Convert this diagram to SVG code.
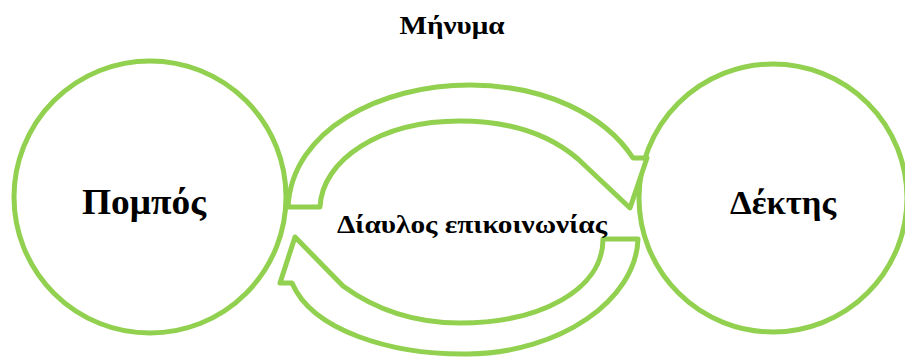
<svg xmlns="http://www.w3.org/2000/svg" width="905" height="357" viewBox="0 0 905 357">
<style>
.node{fill:#ffffff;stroke:#92d050;stroke-width:5}
.arrow{fill:#ffffff;stroke:#92d050;stroke-width:5;stroke-linejoin:round}
.lbl{font-family:"Liberation Serif","DejaVu Serif",serif;font-weight:bold;fill:#000000;text-anchor:middle}
</style>
<rect width="905" height="357" fill="#ffffff"/>
<g id="node-sender">
<circle class="node" cx="150" cy="197" r="136"/>
<text class="lbl" x="144" y="214" font-size="35" textLength="124" lengthAdjust="spacingAndGlyphs">Πομπός</text>
</g>
<g id="node-receiver">
<circle class="node" cx="773" cy="198" r="134"/>
<text class="lbl" x="783" y="214" font-size="33" textLength="106" lengthAdjust="spacingAndGlyphs">Δέκτης</text>
</g>
<g id="connectors">
<path class="arrow" d="M288,207 C292,130 380,85 470,85 C545,85 605,115 633,158 L647,158 L630,208 L578,159 C550,135 510,121 460,121 C380,121 322,160 320,207 Z"/>
<path class="arrow" d="M638,239 C636,300 560,353 468,354 C390,355 312,330 292,283 L280,283 L295,237 L343,286 C380,313 420,323 460,323 C540,323 603,290 603,239 Z"/>
</g>
<text class="lbl" x="452" y="34" font-size="25" textLength="105" lengthAdjust="spacingAndGlyphs">Μήνυμα</text>
<text class="lbl" x="472" y="233" font-size="25" textLength="270" lengthAdjust="spacingAndGlyphs">Δίαυλος επικοινωνίας</text>
</svg>
